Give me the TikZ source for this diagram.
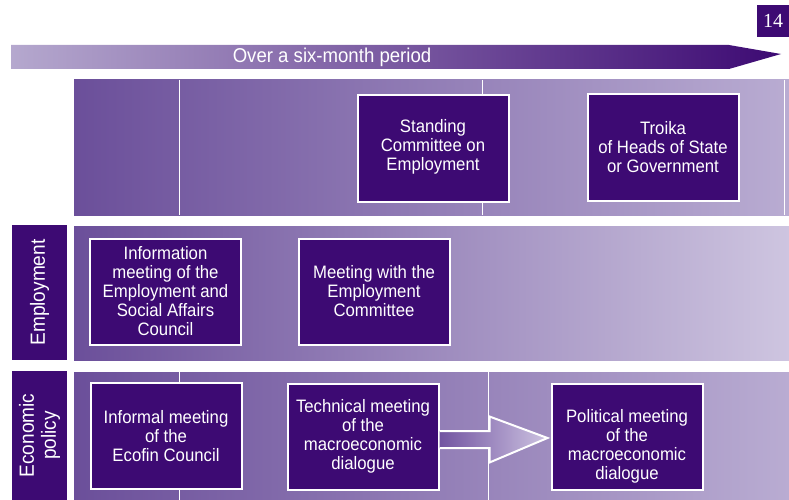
\documentclass[tikz,border=0pt]{standalone}
\usepackage{fontspec}
\setmainfont{Liberation Sans}[FakeStretch=0.93]
\newfontfamily\pagefont{Liberation Serif}
\usetikzlibrary{calc}

\definecolor{deep}{HTML}{3D0A73}
\definecolor{arrowpale}{HTML}{B5A8CE}
\definecolor{bandleft}{HTML}{6B4F9A}
\definecolor{bandright}{HTML}{B9ACD2}
\definecolor{bandpale}{HTML}{CEC5E0}
\definecolor{shaftdark}{HTML}{7254A1}
\definecolor{shaftpale}{HTML}{CDC3E1}

\begin{document}
\begin{tikzpicture}[x=1pt,y=-1pt,
  event/.style={draw=white,line width=2pt,fill=deep,text=white,align=center,
    minimum width=151pt,minimum height=106pt,inner sep=1pt,
    font=\fontsize{18}{19}\selectfont},
  rowlabel/.style={fill=deep,text=white,align=center,rotate=90,
    minimum height=55pt,inner sep=0pt,font=\fontsize{20.5}{22}\selectfont},
  divider/.style={white,line width=1pt}]
  \useasboundingbox (0,0) rectangle (789,500);

  % timeline
  \shade[left color=arrowpale,right color=deep] (11,45) -- (729,45) -- (781,54) -- (729,69) -- (11,69) -- cycle;
  \node[text=white,font=\fontsize{20}{22}\selectfont] (period) at (332,57) {Over a six-month period};
  \node[fill=deep,text=white,minimum width=32pt,minimum height=32pt,inner sep=0pt,
    font=\pagefont\fontsize{20}{20}\selectfont] (page) at (773,21) {14};

  % bands
  \shade[left color=bandleft,right color=bandright] (74,80) rectangle (789,215);
  \draw[divider] (179,80) -- (179,215) (482,80) -- (482,215) (784,80) -- (784,215);
  \shade[left color=bandleft,right color=bandpale] (74,226) rectangle (789,360);
  \shade[left color=bandleft,right color=bandright] (74,372) rectangle (789,500);
  \draw[divider] (179,372) -- (179,500) (488,372) -- (488,500);

  \node[rowlabel,minimum width=135pt] (employment) at (39.5,292.5) {Employment};
  \node[rowlabel,minimum width=129pt] (economic) at (39.5,435.5) {Economic\\policy};

  \node[event] (standing) at (433,148.5) {Standing\\Committee on\\Employment\rule[-8pt]{0pt}{8pt}};
  \node[event] (troika)   at (663,147.5) {Troika\\of Heads of State\\or Government};
  \node[event] (info)     at (165.5,291.5) {Information\\meeting of the\\Employment and\\Social Affairs\\Council};
  \node[event] (emco)     at (374,291.5) {Meeting with the\\Employment\\Committee};
  \node[event] (ecofin)   at (166,436) {Informal meeting\\of the\\Ecofin Council};
  \node[event] (tech)     at (363,436.5) {Technical meeting\\of the\\macroeconomic\\dialogue};
  \node[event] (pol)      at (627,436.5) {\rule{0pt}{32pt}Political meeting\\of the\\macroeconomic\\dialogue};

  % tech -> pol
  \coordinate (tail) at ($(tech.east)+(0,3)$);
  \shade[left color=shaftdark,right color=shaftpale,draw=white,line width=2pt]
    ($(tail)+(0,-8.5)$) -- ($(tail)+(50,-8.5)$) -- ($(tail)+(50,-23)$)
    -- ($(pol.west)+(-3,1.5)$) -- ($(tail)+(50,23)$) -- ($(tail)+(50,8.5)$) -- ($(tail)+(0,8.5)$);
\end{tikzpicture}
\end{document}
